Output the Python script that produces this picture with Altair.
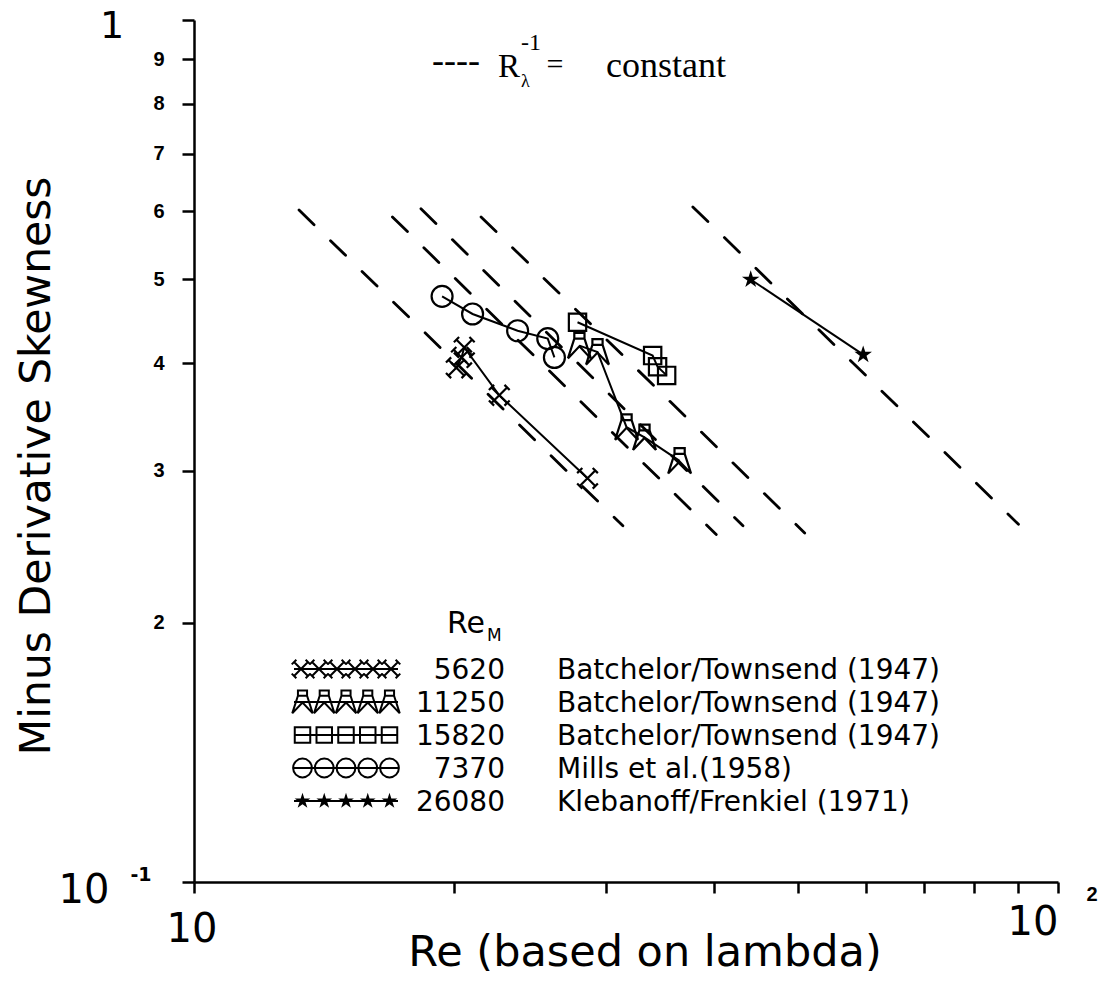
import altair as alt
import pandas as pd

# ---------------- data ----------------
SERIES = ["5620", "11250", "15820", "7370", "26080"]
SOURCES = ["Batchelor/Townsend (1947)", "Batchelor/Townsend (1947)",
           "Batchelor/Townsend (1947)", "Mills et al.(1958)",
           "Klebanoff/Frenkiel (1971)"]

RE_5620 = [20.12, 20.40, 20.55, 22.56, 28.54]
SK_5620 = [0.395, 0.406, 0.417, 0.367, 0.294]
RE_11250 = [27.93, 29.31, 31.67, 33.22, 36.48]
SK_11250 = [0.419, 0.412, 0.337, 0.328, 0.308]
RE_15820 = [27.79, 33.95, 34.40, 35.24]
SK_15820 = [0.446, 0.408, 0.396, 0.387]
RE_7370 = [19.37, 21.01, 23.69, 25.67, 26.13]
SK_7370 = [0.478, 0.456, 0.436, 0.427, 0.406]
RE_26080 = [44.09, 59.50]
SK_26080 = [0.500, 0.409]

# dashed "R_lambda^-1 = constant" guide lines (start / end points)
DASH_RE0 = [13.23, 16.97, 18.31, 21.49, 37.79]
DASH_SK0 = [0.602, 0.591, 0.604, 0.591, 0.607]
DASH_RE1 = [31.36, 40.22, 43.19, 50.91, 90.00]
DASH_SK1 = [0.259, 0.253, 0.259, 0.254, 0.260]

X_TICKS = [10, 20, 30, 40, 50, 60, 70, 80, 90, 100]
Y_TICKS = [0.1, 0.2, 0.3, 0.4, 0.5, 0.6, 0.7, 0.8, 0.9, 1.0]

# ---------------- layout ----------------
X0, W = 194, 864      # page x of Re=10, plot width (one decade)
Y0, H = 20, 862       # page y of S=1, plot height (one decade)

def re_at(px):
    return 10 * 10 ** ((px - X0) / W)

def sk_at(py):
    return 10 ** (-(py - Y0) / H)

XS = alt.Scale(type="log", domain=[10, 100], nice=False)
YS = alt.Scale(type="log", domain=[0.1, 1], nice=False)

axis_common = dict(domainColor="black", tickColor="black", domainWidth=2.5,
                   tickWidth=2.5, grid=False, title=None)
X_AX = alt.Axis(values=X_TICKS, labels=False, tickSize=11, **axis_common)
Y_AX = alt.Axis(values=Y_TICKS, tickSize=12, labelPadding=18,
                labelFont="Liberation Sans", labelFontWeight="bold",
                labelFontSize=20, labelColor="black",
                labelExpr="(datum.value > 0.15 && datum.value < 0.95) ? format(round(datum.value * 10), 'd') : ''",
                **axis_common)

def xenc(field="R"):
    return alt.X(f"{field}:Q", scale=XS, axis=X_AX)

def yenc(field="S"):
    return alt.Y(f"{field}:Q", scale=YS, axis=Y_AX)

CROSS = ("M-0.75,-0.75L0.75,0.75M0.75,-0.75L-0.75,0.75"
         "M-1,-0.5L-0.5,-1M1,-0.5L0.5,-1M-1,0.5L-0.5,1M1,0.5L0.5,1")
AFRAME = ("M-0.4,-1L0.4,-1L0.4,-0.55L-0.4,-0.55Z"
          "M-0.4,-0.55L-0.9,1M0.4,-0.55L0.9,1"
          "M-0.9,1L0,0.05L0.9,1")
STAR = ("M0,-1L0.2245,-0.309L0.951,-0.309L0.363,0.118L0.588,0.809"
        "L0,0.382L-0.588,0.809L-0.363,0.118L-0.951,-0.309L-0.2245,-0.309Z")

STYLE = {
    "5620": dict(shape=CROSS, size=430, filled=False),
    "11250": dict(shape=AFRAME, size=650, filled=False),
    "15820": dict(shape="square", size=300, filled=False),
    "7370": dict(shape="circle", size=440, filled=False),
    "26080": dict(shape=STAR, size=340, filled=True),
}
DATA = {
    "5620": (RE_5620, SK_5620),
    "11250": (RE_11250, SK_11250),
    "15820": (RE_15820, SK_15820),
    "7370": (RE_7370, SK_7370),
    "26080": (RE_26080, SK_26080),
}

layers = []

# dashed guide lines
drows = []
for i in range(len(DASH_RE0)):
    drows.append({"line": i, "R": DASH_RE0[i], "S": DASH_SK0[i]})
    drows.append({"line": i, "R": DASH_RE1[i], "S": DASH_SK1[i]})
dashed = alt.Chart(pd.DataFrame(drows)).mark_line(
    color="black", strokeWidth=2.8, strokeDash=[21, 23], strokeCap="round"
).encode(x=xenc(), y=yenc(), detail="line:N")
layers.append(dashed)

# data series: lines + markers
for name in SERIES:
    r, s = DATA[name]
    df = pd.DataFrame({"R": r, "S": s})
    layers.append(alt.Chart(df).mark_line(color="black", strokeWidth=2).encode(
        x=xenc(), y=yenc()))
    st = STYLE[name]
    layers.append(alt.Chart(df).mark_point(
        shape=st["shape"], size=st["size"], filled=st["filled"],
        color="black", strokeWidth=2.2, opacity=1).encode(x=xenc(), y=yenc()))

# ---------------- text helpers ----------------
def text(txt, px, py, size, font="DejaVu Sans", weight="normal",
         align="left", baseline="alphabetic", angle=0):
    return alt.Chart(pd.DataFrame({"t": [txt]})).mark_text(
        font=font, fontSize=size, fontWeight=weight, align=align,
        baseline=baseline, angle=angle, color="black"
    ).encode(x=alt.value(px - X0), y=alt.value(py - Y0), text="t:N")

# axis titles and big tick labels
layers.append(text("Minus Derivative Skewness", 50, 466, 42.5, align="center", angle=270))
layers.append(text("Re (based on lambda)", 645, 966, 43, align="center"))
layers.append(text("1", 112, 38, 38, align="center"))
layers.append(text("10", 84, 903, 40, align="center"))
layers.append(text("-1", 141, 881, 19, weight="bold", align="center"))
layers.append(text("10", 192, 942, 40, align="center"))
layers.append(text("10", 1033, 935, 40, align="center"))
layers.append(text("2", 1092, 901, 20, weight="bold", font="Liberation Sans", align="center"))

# guide legend at top
layers.append(text("----", 432, 72, 36, font="Liberation Serif"))
layers.append(text("R", 498, 77, 33, font="Liberation Serif"))
layers.append(text("λ", 521, 87, 18, font="Liberation Serif"))
layers.append(text("-1", 521, 50, 24, font="Liberation Serif"))
layers.append(text("=", 555, 74, 30, font="Liberation Serif", align="center"))
layers.append(text("constant", 606, 77, 36, font="Liberation Serif"))

# ---------------- legend ----------------
LEG_X0, LEG_X1 = 292, 400
ROW_Y0, ROW_DY = 669, 33
layers.append(text("Re", 447, 633, 30))
layers.append(text("M", 487, 641, 17))
for i, name in enumerate(SERIES):
    py = ROW_Y0 + ROW_DY * i
    n = 6 if name == "5620" else 5
    st = STYLE[name]
    half = 9 if n == 6 else 10.5
    xs = [LEG_X0 + half + k * (LEG_X1 - LEG_X0 - 2 * half) / (n - 1) for k in range(n)]
    mk = pd.DataFrame({"R": [re_at(x) for x in xs], "S": [sk_at(py)] * n})
    ln = pd.DataFrame({"R": [re_at(LEG_X0 + 2), re_at(LEG_X1 - 2)], "S": [sk_at(py)] * 2})
    layers.append(alt.Chart(ln).mark_line(color="black", strokeWidth=2).encode(x=xenc(), y=yenc()))
    layers.append(alt.Chart(mk).mark_point(
        shape=st["shape"], size=st["size"] * 0.8, filled=st["filled"],
        color="black", strokeWidth=2, opacity=1).encode(x=xenc(), y=yenc()))
    layers.append(text(name, 505, py + 10, 28, align="right"))
    layers.append(text(SOURCES[i], 557, py + 10, 28))

chart = alt.layer(*layers).properties(
    width=W, height=H,
    autosize=alt.AutoSizeParams(type="none"),
    padding={"left": X0, "top": Y0, "right": 1104 - X0 - W, "bottom": 988 - Y0 - H},
    background="white",
).configure_view(stroke=None)

chart.save("out.html", embed_options={"renderer": "svg", "actions": False})
